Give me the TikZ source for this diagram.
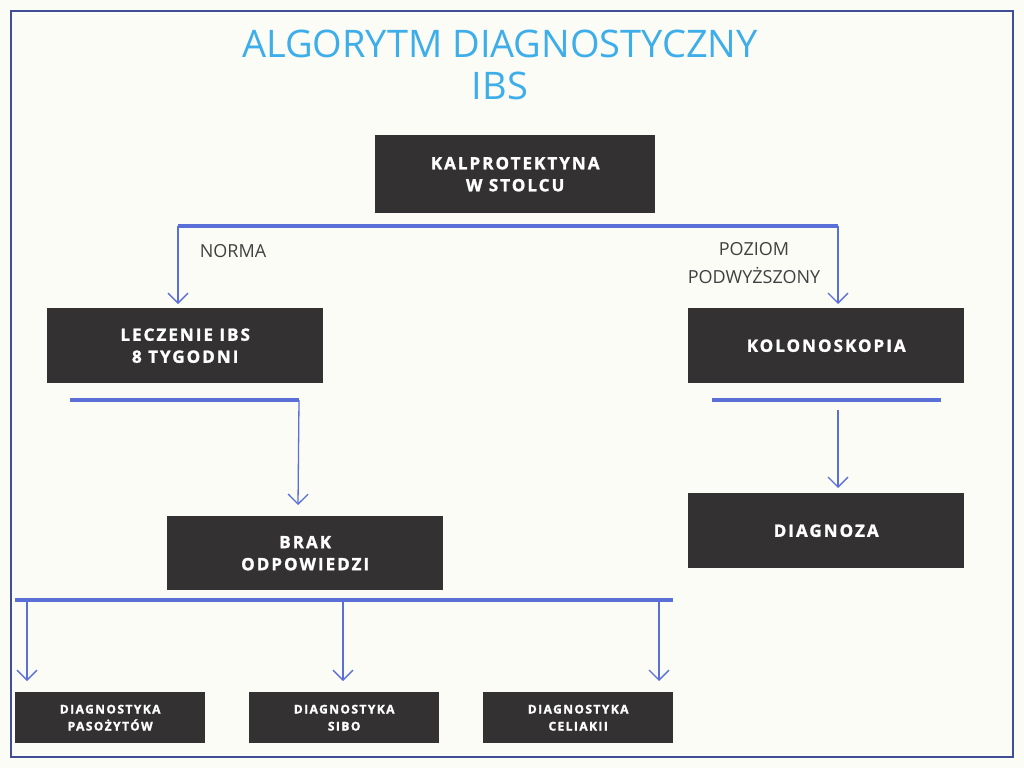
\documentclass[tikz,border=0pt]{standalone}
\usepackage{fontspec}
\setmainfont{Open Sans}
\usetikzlibrary{positioning,arrows.meta}
\definecolor{boxgray}{HTML}{333132}
\definecolor{barblue}{HTML}{5A6FD8}
\definecolor{titleblue}{HTML}{3DAEE9}
\definecolor{framebg}{HTML}{FCFCF7}
\newfontfamily\boxfont[LetterSpace=12,FakeBold=1.5]{Open Sans Bold}

\begin{document}
\begin{tikzpicture}[
        x=1pt, y=-1pt,
        stage/.style={
                rectangle,
                fill=boxgray,
                text=white,
                font=\boxfont\fontsize{17}{22}\selectfont,
                align=center,
                minimum width=276pt,
                minimum height=75pt,
                anchor=north west
            },
        small/.style={
                stage,
                font=\boxfont\fontsize{12}{17}\selectfont,
                minimum width=190pt,
                minimum height=51pt
            },
        bar/.style={draw=barblue, line width=4pt},
        flow/.style={draw=barblue, line width=1.3pt, -{Straight Barb[length=10pt,width=20pt,line width=1.3pt]}},
        branch/.style={font=\fontsize{18}{22}\selectfont, text=black!75}
    ]
    \useasboundingbox (0,0) rectangle (1024,768);
    \fill[framebg] (0,0) rectangle (1024,768);
    \draw[draw=barblue!70!black, line width=1.5pt] (11,11) rectangle (1013,757);

    \node[font=\fontsize{38}{42}\selectfont, text=titleblue, align=center] (title) at (500,65) {ALGORYTM DIAGNOSTYCZNY\\IBS};

    \node[stage, minimum width=280pt, minimum height=78pt] (kalp) at (375,135) {KALPROTEKTYNA\\W STOLCU};
    \node[stage] (lecz)  at (47,308)  {LECZENIE IBS\\8 TYGODNI};
    \node[stage] (kolon) at (688,308) {KOLONOSKOPIA};
    \node[stage, minimum height=74pt] (brak)  at (167,516) {BRAK\\ODPOWIEDZI};
    \node[stage] (diag)  at (688,493) {DIAGNOZA};
    \node[small] (paso)  at (15,692)  {DIAGNOSTYKA\\PASOŻYTÓW};
    \node[small] (sibo)  at (249,692) {DIAGNOSTYKA\\SIBO};
    \node[small] (celi)  at (483,692) {DIAGNOSTYKA\\CELIAKII};

    % bars
    \coordinate (b1l) at (178,226);
    \coordinate (b1r) at (838,226);
    \draw[bar] (b1l) -- (b1r);
    \coordinate (b2l) at (70,400);
    \coordinate (b2r) at (299,400);
    \draw[bar] (b2l) -- (b2r);
    \coordinate (b3l) at (712,400);
    \coordinate (b3r) at (941,400);
    \draw[bar] (b3l) -- (b3r);
    \coordinate (b4l) at (15,600);
    \coordinate (b4r) at (673,600);
    \draw[bar] (b4l) -- (b4r);

    % arrows
    \draw[flow] (b1l) -- (178,304);
    \draw[flow] (b1r) -- (838,304);
    \draw[flow] (b2r) -- (298,505);
    \draw[flow] (838,410) -- (838,488);
    \draw[flow] (27,600) -- (27,681);
    \draw[flow] (343,600) -- (343,681);
    \draw[flow] (659,600) -- (659,681);

    \node[branch] (norma) at (233,251) {NORMA};
    \node[branch, align=center] (poziom) at (754,263) {POZIOM\\[6pt]PODWYŻSZONY};
\end{tikzpicture}
\end{document}
